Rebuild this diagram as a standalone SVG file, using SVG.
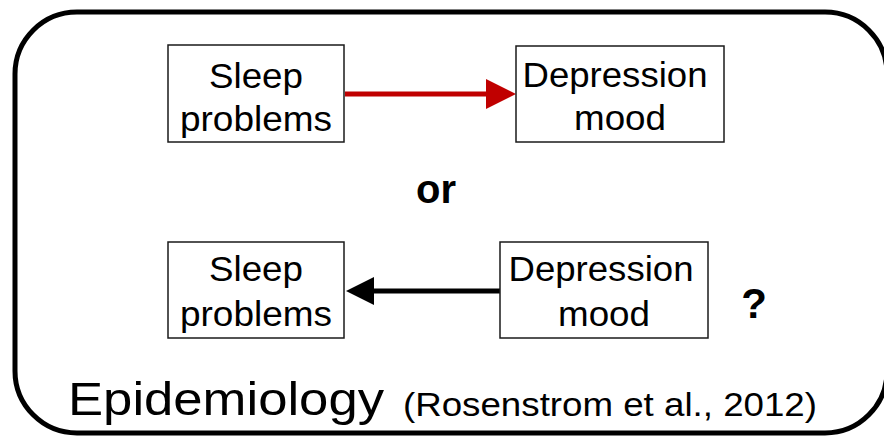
<svg xmlns="http://www.w3.org/2000/svg" width="884" height="440" viewBox="0 0 884 440">
  <style>
    .frame { fill: #ffffff; stroke: #000000; stroke-width: 5; }
    .box { fill: #ffffff; stroke: #1a1a1a; stroke-width: 1.5; }
    .lbl { font-family: "Liberation Sans", Arial, sans-serif; font-size: 35px; fill: #000000; text-anchor: middle; }
    .bold { font-family: "Liberation Sans", Arial, sans-serif; font-weight: bold; fill: #000000; text-anchor: middle; }
    .caption { font-family: "Liberation Sans", Arial, sans-serif; fill: #000000; }
  </style>
  <defs>
    <marker id="headRed" markerUnits="userSpaceOnUse" markerWidth="30" markerHeight="30" refX="2" refY="15" orient="auto">
      <path d="M0,0 L30,15 L0,30 Z" fill="#c00000"/>
    </marker>
    <marker id="headBlack" markerUnits="userSpaceOnUse" markerWidth="28" markerHeight="28" refX="2" refY="14" orient="auto">
      <path d="M0,0 L28,14 L0,28 Z" fill="#000000"/>
    </marker>
  </defs>

  <!-- outer rounded frame -->
  <rect class="frame" x="15" y="12" width="872" height="421" rx="62" ry="62"/>

  <!-- connectors -->
  <g id="connectors">
    <line x1="345" y1="94" x2="488" y2="94" stroke="#c00000" stroke-width="5" marker-end="url(#headRed)"/>
    <line x1="500" y1="291" x2="372" y2="291" stroke="#000000" stroke-width="5" marker-end="url(#headBlack)"/>
  </g>

  <!-- top row -->
  <g id="sleep-top">
    <rect class="box" x="168" y="45" width="176" height="97"/>
    <text class="lbl" x="256" y="88" textLength="94" lengthAdjust="spacingAndGlyphs">Sleep</text>
    <text class="lbl" x="256" y="131" textLength="152" lengthAdjust="spacingAndGlyphs">problems</text>
  </g>
  <g id="depression-top">
    <rect class="box" x="516" y="46" width="208" height="96"/>
    <text class="lbl" x="615" y="87" textLength="185" lengthAdjust="spacingAndGlyphs">Depression</text>
    <text class="lbl" x="620" y="130" textLength="92" lengthAdjust="spacingAndGlyphs">mood</text>
  </g>

  <text class="bold" x="436" y="203" font-size="40">or</text>

  <!-- bottom row -->
  <g id="sleep-bottom">
    <rect class="box" x="168" y="242" width="176" height="96"/>
    <text class="lbl" x="256" y="281" textLength="94" lengthAdjust="spacingAndGlyphs">Sleep</text>
    <text class="lbl" x="256" y="326" textLength="152" lengthAdjust="spacingAndGlyphs">problems</text>
  </g>
  <g id="depression-bottom">
    <rect class="box" x="500" y="242" width="208" height="96"/>
    <text class="lbl" x="601" y="281" textLength="185" lengthAdjust="spacingAndGlyphs">Depression</text>
    <text class="lbl" x="604" y="326" textLength="92" lengthAdjust="spacingAndGlyphs">mood</text>
  </g>

  <text class="bold" x="754" y="318" font-size="42">?</text>

  <!-- caption -->
  <text class="caption" x="68" y="415" font-size="47" textLength="316" lengthAdjust="spacingAndGlyphs">Epidemiology</text>
  <text class="caption" x="403" y="416" font-size="33" textLength="414" lengthAdjust="spacingAndGlyphs">(Rosenstrom et al., 2012)</text>
</svg>
